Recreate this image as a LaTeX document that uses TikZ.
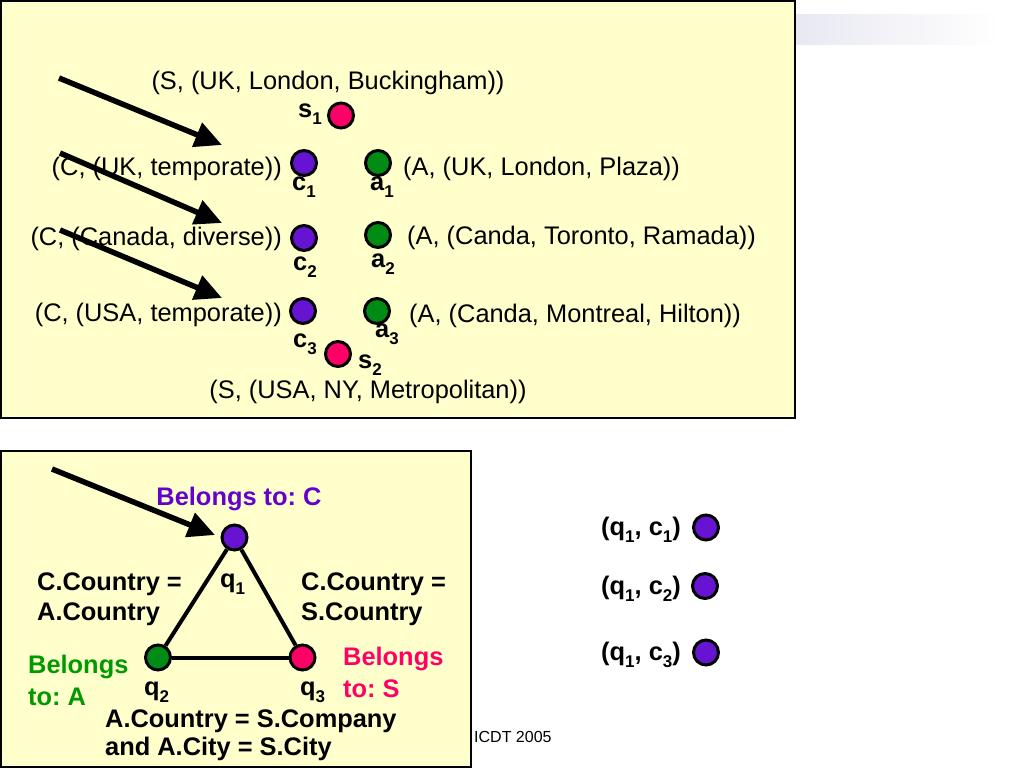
\documentclass[tikz,border=0pt]{standalone}
\usepackage{fontspec}
\setmainfont{Liberation Sans}
\usetikzlibrary{arrows.meta}
\frenchspacing
\definecolor{boxfill}{RGB}{255,255,204}
\definecolor{cpurple}{RGB}{102,20,210}
\definecolor{cpink}{RGB}{255,0,102}
\definecolor{cgreen}{RGB}{0,140,20}
\definecolor{tpurple}{RGB}{102,0,204}
\definecolor{tgreen}{RGB}{0,153,0}
\definecolor{tpink}{RGB}{255,0,102}
\definecolor{band}{RGB}{232,232,242}
\newcommand\sbs[1]{\raisebox{-0.28em}{\fontsize{17}{17}\selectfont #1}}
\begin{document}
\begin{tikzpicture}[x=1pt,y=-1pt,
  dot/.style={circle,draw=black,line width=3pt,minimum size=25pt,inner sep=0pt},
  plain/.style={font=\fontsize{25.4}{30}\selectfont,inner sep=0pt},
  lbl/.style={font=\fontsize{25.4}{30}\selectfont\bfseries,inner sep=0pt},
  small/.style={font=\fontsize{16}{19}\selectfont,inner sep=0pt},
  bigarrow/.style={line width=5.5pt,-{Triangle[length=27pt,width=25pt]}},
  edgeline/.style={line width=4pt},
  panel/.style={draw=black,fill=boxfill,line width=2pt}]
\useasboundingbox (0,0) rectangle (1024,768);
% decorative band
\shade[left color=band,right color=white] (795,15) rectangle (1000,45);
% panels
\draw[panel] (1,1) rectangle (795,418);
\draw[panel] (1,451) rectangle (471,767);

% ---------- top panel ----------
\node[dot,fill=cpink]   (s1) at (341,115.5) {};
\node[dot,fill=cpurple] (c1) at (304,163) {};
\node[dot,fill=cgreen]  (a1) at (378,163) {};
\node[dot,fill=cpurple] (c2) at (304,238) {};
\node[dot,fill=cgreen]  (a2) at (378,235) {};
\node[dot,fill=cpurple] (c3) at (303,311) {};
\node[dot,fill=cgreen]  (a3) at (377,311) {};
\node[dot,fill=cpink]   (s2) at (338,354) {};

\node[lbl,anchor=base west] (ls1) at (298,117) {s\sbs{1}};
\node[lbl,anchor=base west] (lc1) at (292,190) {c\sbs{1}};
\node[lbl,anchor=base west] (la1) at (370,190) {a\sbs{1}};
\node[lbl,anchor=base west] (lc2) at (293,270) {c\sbs{2}};
\node[lbl,anchor=base west] (la2) at (371,267) {a\sbs{2}};
\node[lbl,anchor=base west] (lc3) at (293,347) {c\sbs{3}};
\node[lbl,anchor=base west] (la3) at (375,337) {a\sbs{3}};
\node[lbl,anchor=base west] (ls2) at (358,368) {s\sbs{2}};

\node[plain,anchor=base] (ts1) at (328,89) {(S, (UK, London, Buckingham))};
\node[plain,anchor=base east] (tc1) at (282,175) {(C, (UK, temporate))};
\node[plain,anchor=base west] (ta1) at (403,175) {(A, (UK, London, Plaza))};
\node[plain,anchor=base east] (tc2) at (282,245) {(C, (Canada, diverse))};
\node[plain,anchor=base west] (ta2) at (407,244) {(A, (Canda, Toronto, Ramada))};
\node[plain,anchor=base east] (tc3) at (282,321) {(C, (USA, temporate))};
\node[plain,anchor=base west] (ta3) at (409,322) {(A, (Canda, Montreal, Hilton))};
\node[plain,anchor=base] (ts2) at (368,398) {(S, (USA, NY, Metropolitan))};

\coordinate (p1s) at (59,78);  \coordinate (p1e) at (222,145);
\coordinate (p2s) at (60,153); \coordinate (p2e) at (222,223);
\coordinate (p3s) at (60,230); \coordinate (p3e) at (222,298);
\draw[bigarrow] (p1s) -- (p1e);
\draw[bigarrow] (p2s) -- (p2e);
\draw[bigarrow] (p3s) -- (p3e);

% ---------- bottom panel ----------
\node[dot,fill=cpurple] (q1) at (234.5,537.5) {};
\node[dot,fill=cgreen]  (q2) at (158,657.5) {};
\node[dot,fill=cpink]   (q3) at (302.5,657.5) {};
\draw[edgeline] (q1) -- (q2);
\draw[edgeline] (q2) -- (q3);
\draw[edgeline] (q3) -- (q1);

\coordinate (p4s) at (52,469); \coordinate (p4e) at (215,535);
\draw[bigarrow] (p4s) -- (p4e);

\node[lbl,anchor=base,text=tpurple] (bc) at (239,505) {Belongs to: C};
\node[lbl,anchor=base west] (lq1) at (220,587) {q\sbs{1}};
\node[lbl,anchor=base west] (lq2) at (144,695) {q\sbs{2}};
\node[lbl,anchor=base west] (lq3) at (300,695) {q\sbs{3}};
\node[lbl,anchor=base west] (ca1) at (37,590) {C.Country =};
\node[lbl,anchor=base west] (ca2) at (37,620) {A.Country};
\node[lbl,anchor=base west] (cs1) at (301,590) {C.Country =};
\node[lbl,anchor=base west] (cs2) at (301,620) {S.Country};
\node[lbl,anchor=base west,text=tgreen] (ba1) at (28,673) {Belongs};
\node[lbl,anchor=base west,text=tgreen] (ba2) at (28,705) {to: A};
\node[lbl,anchor=base west,text=tpink] (bs1) at (343,665) {Belongs};
\node[lbl,anchor=base west,text=tpink] (bs2) at (343,697) {to: S};
\node[lbl,anchor=base west] (as1) at (105,727) {A.Country = S.Company};
\node[lbl,anchor=base west] (as2) at (105,755) {and A.City = S.City};

\node[small,anchor=base west] (icdt) at (474,742) {ICDT 2005};

% ---------- right column ----------
\node[dot,fill=cpurple] (r1) at (706,527.5) {};
\node[dot,fill=cpurple] (r2) at (705,586) {};
\node[dot,fill=cpurple] (r3) at (706,652.5) {};
\node[lbl,anchor=base east] (lr1) at (681,535) {(q\sbs{1}, c\sbs{1})};
\node[lbl,anchor=base east] (lr2) at (681,594) {(q\sbs{1}, c\sbs{2})};
\node[lbl,anchor=base east] (lr3) at (681,660) {(q\sbs{1}, c\sbs{3})};
\end{tikzpicture}
\end{document}
